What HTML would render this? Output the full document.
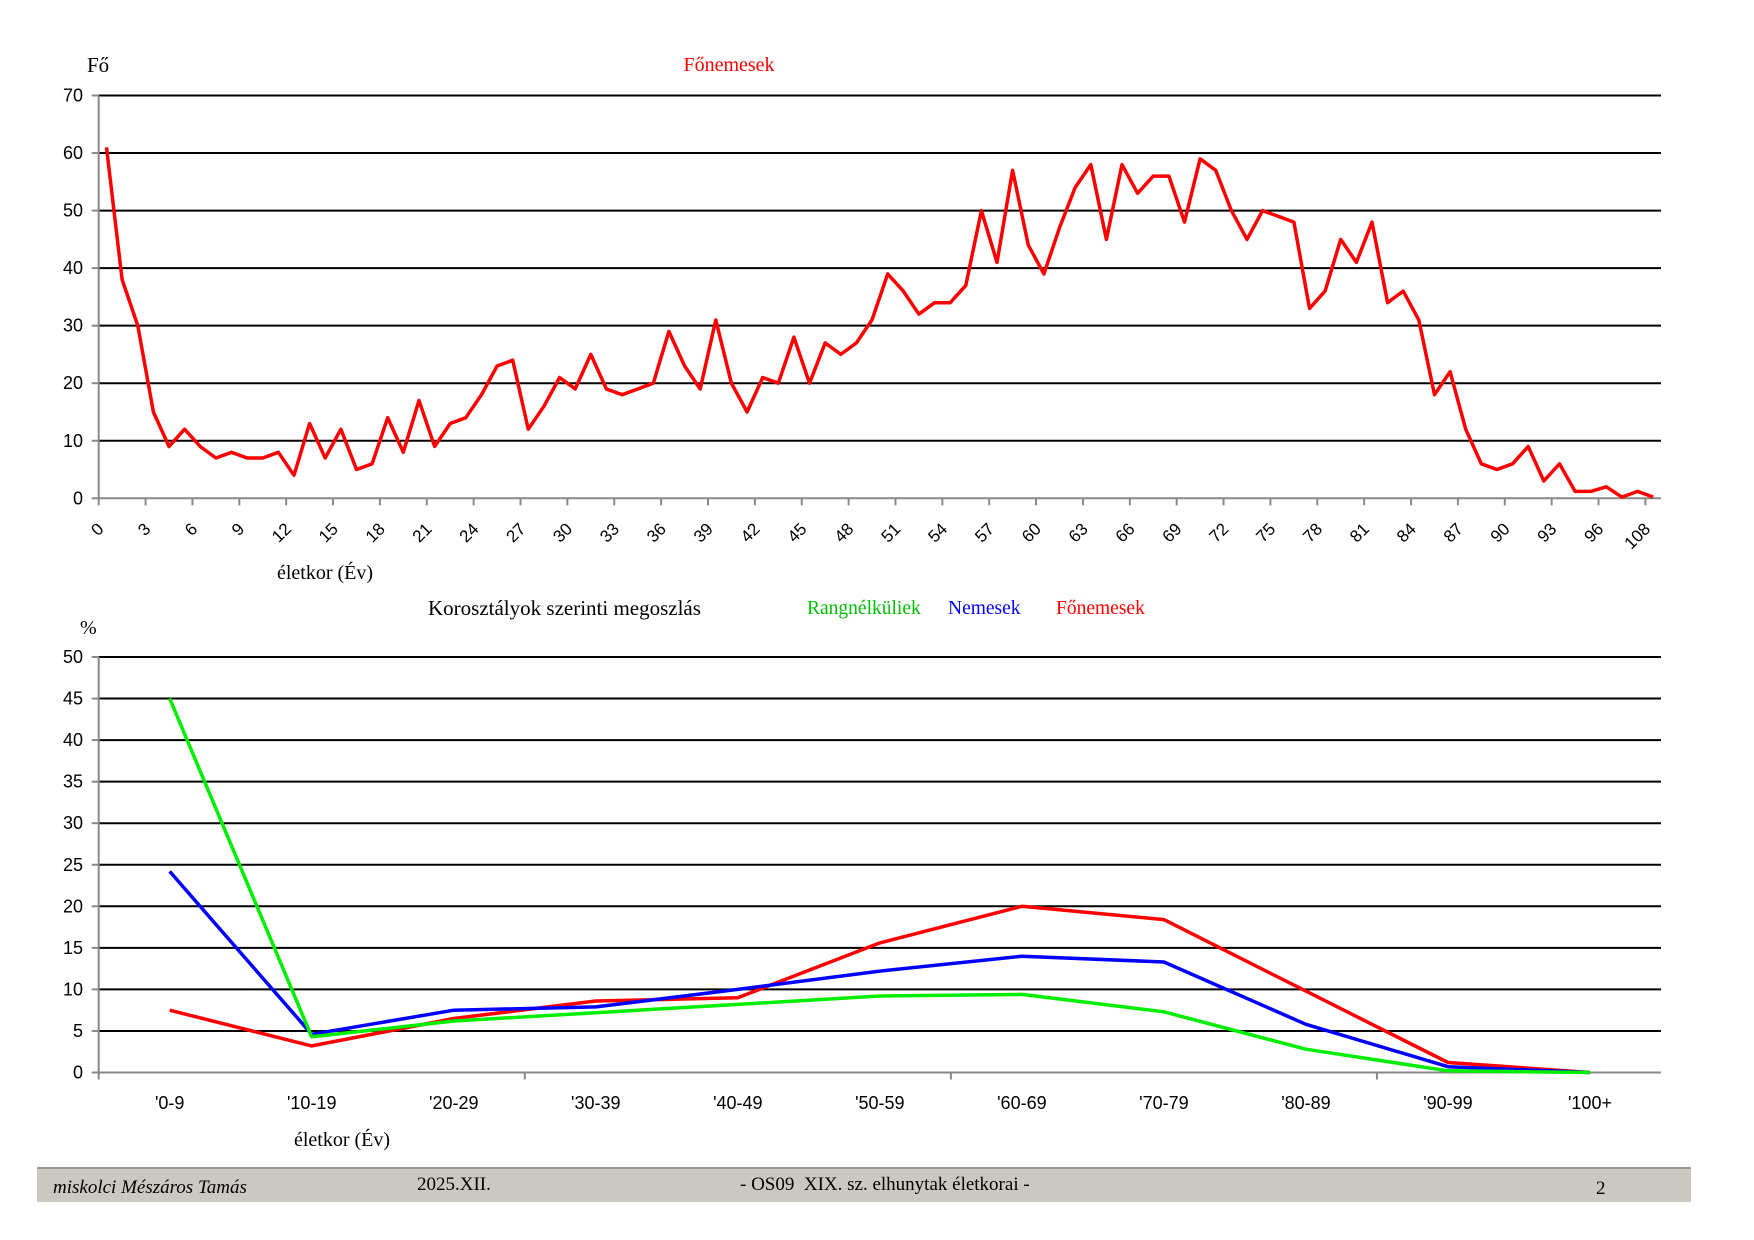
<!DOCTYPE html>
<html><head><meta charset="utf-8"><style>
html,body{margin:0;padding:0;background:#fff;}
svg{display:block;}
</style></head><body>
<svg id="s" width="1754" height="1240" xmlns="http://www.w3.org/2000/svg" font-family="Liberation Sans, sans-serif">
<rect x="37" y="1167" width="1654" height="35" fill="#cbc8c1"/>
<line x1="37" y1="1168" x2="1691" y2="1168" stroke="#9a9a9a" stroke-width="2"/>
<g font-family="Liberation Serif, serif" font-size="19" fill="#000">
<text x="53" y="1193" font-style="italic">miskolci Mészáros Tamás</text>
<text x="417" y="1190">2025.XII.</text>
<text x="740" y="1190" xml:space="preserve">- OS09  XIX. sz. elhunytak életkorai -</text>
<text x="1596" y="1194">2</text>
<text x="87" y="72" font-size="21">Fő</text>
<text x="729" y="71" font-size="20" fill="#ff0000" text-anchor="middle">Főnemesek</text>
<text x="325" y="579" font-size="20" text-anchor="middle">életkor (Év)</text>
<text x="428" y="615" font-size="21">Korosztályok szerinti megoszlás</text>
<text x="807" y="614" font-size="19.5" fill="#00c000">Rangnélküliek</text>
<text x="948" y="614" font-size="19.5" fill="#0000ff">Nemesek</text>
<text x="1056" y="614" font-size="19.5" fill="#ff0000">Főnemesek</text>
<text x="80" y="634" font-size="20">%</text>
<text x="342" y="1146" font-size="20" text-anchor="middle">életkor (Év)</text>
</g>
<g id="g"></g>
</svg>
<script>
var NS="http://www.w3.org/2000/svg",g=document.getElementById("g");
function el(t,a,txt){var e=document.createElementNS(NS,t);for(var k in a)e.setAttribute(k,a[k]);if(txt!==undefined)e.textContent=txt;g.appendChild(e);return e;}
var L=98.7,R=1661,T0=498.3,T70=95.5;
function ty(v){return T0-(T0-T70)*v/70;}
for(var v=0;v<=70;v+=10){var y=ty(v);
 if(v>0)el("line",{x1:L,y1:y,x2:R,y2:y,stroke:"#000","stroke-width":2});
 el("line",{x1:L-7,y1:y,x2:L,y2:y,stroke:"#888","stroke-width":2});
 el("text",{x:83,y:y+6,"font-size":18,"text-anchor":"end"},v);}
el("line",{x1:L,y1:T70,x2:L,y2:T0,stroke:"#888","stroke-width":2});
el("line",{x1:L,y1:T0,x2:R,y2:T0,stroke:"#888","stroke-width":2});
var cw=(R-L)/100;
for(var k=0;k<=99;k+=3){var x=L+k*cw;
 el("line",{x1:x,y1:T0,x2:x,y2:T0+7,stroke:"#888","stroke-width":2});
 var lab=k==99?"108":String(k);
 el("text",{x:x+6,y:530,"font-size":17,"text-anchor":"end",transform:"rotate(-45 "+(x+6)+" 530)"},lab);}
var d=[61,38,30,15,9,12,9,7,8,7,7,8,4,13,7,12,5,6,14,8,17,9,13,14,18,23,24,12,16,21,19,25,19,18,19,20,29,23,19,31,20,15,21,20,28,20,27,25,27,31,39,36,32,34,34,37,50,41,57,44,39,47,54,58,45,58,53,56,56,48,59,57,50,45,50,49,48,33,36,45,41,48,34,36,31,18,22,12,6,5,6,9,3,6,1.2,1.2,2,0.2,1.2,0.2];
var p=d.map(function(v,i){return (L+cw*(i+0.5)).toFixed(1)+","+ty(v).toFixed(1);}).join(" ");
el("polyline",{points:p,fill:"none",stroke:"#ff0000","stroke-width":3.5,"stroke-linejoin":"round"});
var B0=1072.5,B50=657;
function by(v){return B0-(B0-B50)*v/50;}
for(var v=0;v<=50;v+=5){var y=by(v);
 if(v>0)el("line",{x1:L,y1:y,x2:R,y2:y,stroke:"#000","stroke-width":2});
 el("line",{x1:L-7,y1:y,x2:L,y2:y,stroke:"#888","stroke-width":2});
 el("text",{x:83,y:y+6,"font-size":18,"text-anchor":"end"},v);}
el("line",{x1:L,y1:B50,x2:L,y2:B0,stroke:"#888","stroke-width":2});
el("line",{x1:L,y1:B0,x2:R,y2:B0,stroke:"#888","stroke-width":2});
var bw=(R-L)/11;
[0,3,6,9].forEach(function(k){var x=L+k*bw;el("line",{x1:x,y1:B0,x2:x,y2:B0+7,stroke:"#888","stroke-width":2});});
var cats=["'0-9","'10-19","'20-29","'30-39","'40-49","'50-59","'60-69","'70-79","'80-89","'90-99","'100+"];
cats.forEach(function(c,i){el("text",{x:L+bw*(i+0.5),y:1109,"font-size":18,"text-anchor":"middle"},c);});
var S=[["#ff0000",[7.5,3.2,6.5,8.6,9,15.6,20,18.4,9.8,1.2,0]],
["#0000ff",[24.2,4.6,7.5,7.9,10,12.2,14,13.3,5.8,0.7,0]],
["#00ee00",[45,4.3,6.2,7.2,8.2,9.2,9.4,7.3,2.8,0.2,0]]];
S.forEach(function(s){var p=s[1].map(function(v,i){return (L+bw*(i+0.5)).toFixed(1)+","+by(v).toFixed(1);}).join(" ");
 el("polyline",{points:p,fill:"none",stroke:s[0],"stroke-width":3.5,"stroke-linejoin":"round"});});
</script>
</body></html>
